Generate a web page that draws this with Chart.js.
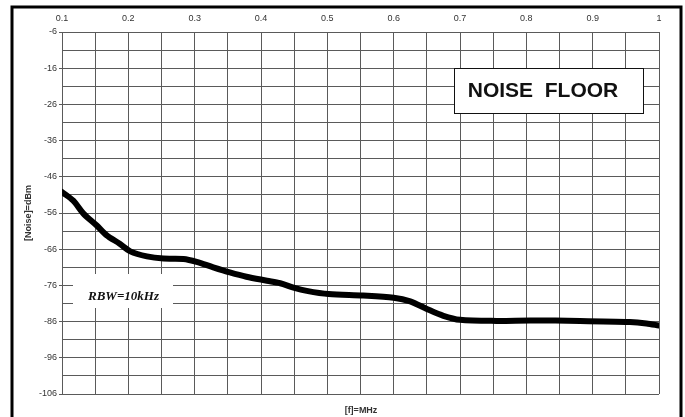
<!DOCTYPE html>
<html>
<head>
<meta charset="utf-8">
<script src="https://cdn.jsdelivr.net/npm/chart.js@4.4.1/dist/chart.umd.min.js"></script>
<style>
  html, body { margin: 0; padding: 0; background: #fff; }
  #wrap { position: relative; width: 685px; height: 417px; }
</style>
</head>
<body>
<div id="wrap"><canvas id="c" width="685" height="417"></canvas></div>
<script>
// Frequency in MHz
const freqMHz = [0.10, 0.117, 0.132, 0.152, 0.167, 0.187, 0.203, 0.228, 0.253, 0.283,
                 0.303, 0.328, 0.353, 0.378, 0.409, 0.429, 0.449, 0.469, 0.502, 0.554,
                 0.600, 0.625, 0.650, 0.675, 0.700, 0.755, 0.806, 0.881, 0.956, 0.981, 1.00];
// Noise level in dBm
const noiseDBm = [-50.2, -52.6, -56.1, -59.4, -62.1, -64.5, -66.6, -68.0, -68.6, -68.7,
                  -69.5, -71.0, -72.4, -73.6, -74.7, -75.4, -76.6, -77.5, -78.4, -78.8,
                  -79.4, -80.4, -82.5, -84.4, -85.5, -85.8, -85.7, -85.8, -86.1, -86.5, -87.1];
// Grid positions and labelled ticks
const xGrid = [0.1,0.15,0.2,0.25,0.3,0.35,0.4,0.45,0.5,0.55,0.6,0.65,0.7,0.75,0.8,0.85,0.9,0.95,1.0];
const xLabels = ['0.1','0.2','0.3','0.4','0.5','0.6','0.7','0.8','0.9','1'];
const yGrid = [-106,-101,-96,-91,-86,-81,-76,-71,-66,-61,-56,-51,-46,-41,-36,-31,-26,-21,-16,-11,-6];
const yLabels = ['-106','-96','-86','-76','-66','-56','-46','-36','-26','-16','-6'];
const chartTitle = 'NOISE  FLOOR';
const rbwNote = 'RBW=10kHz';
const xTitle = '[f]=MHz';
const yTitle = '[Noise]=dBm';

const points = freqMHz.map((f, i) => ({ x: f, y: noiseDBm[i] }));
const GRID = '#5a5a5a';
const LBL = '#333';

const decor = {
  id: 'decor',
  beforeDatasetsDraw(chart) {
    const ctx = chart.ctx;
    ctx.save();
    ctx.fillStyle = '#fff';
    ctx.fillRect(73, 274, 100, 34);
    ctx.fillStyle = '#111';
    ctx.font = 'italic bold 13px "Liberation Serif", "Times New Roman", serif';
    ctx.textAlign = 'left';
    ctx.textBaseline = 'middle';
    ctx.fillText(rbwNote, 88, 297);
    ctx.restore();
  },
  afterDraw(chart) {
    const ctx = chart.ctx;
    ctx.save();
    ctx.fillStyle = '#fff';
    ctx.fillRect(454, 68, 189, 45);
    ctx.strokeStyle = '#111';
    ctx.lineWidth = 1;
    ctx.strokeRect(454.5, 68.5, 189, 45);
    ctx.fillStyle = '#111';
    ctx.font = 'bold 21px "Liberation Sans", Arial, sans-serif';
    ctx.textAlign = 'center';
    ctx.textBaseline = 'middle';
    ctx.fillText(chartTitle, 543, 91);
    ctx.fillStyle = LBL;
    ctx.font = 'bold 9px "Liberation Sans", Arial, sans-serif';
    ctx.fillText(xTitle, 361, 411);
    ctx.translate(29, 213);
    ctx.rotate(-Math.PI / 2);
    ctx.fillText(yTitle, 0, 0);
    ctx.restore();
    ctx.save();
    ctx.strokeStyle = '#000';
    ctx.lineWidth = 3;
    ctx.strokeRect(12, 7, 669, 430);
    ctx.restore();
  }
};

new Chart(document.getElementById('c'), {
  type: 'line',
  data: {
    datasets: [{
      data: points,
      borderColor: '#000',
      borderWidth: 6,
      pointRadius: 0,
      tension: 0.3,
      borderCapStyle: 'round',
      borderJoinStyle: 'round',
      fill: false
    }]
  },
  options: {
    responsive: false,
    animation: false,
    layout: { padding: { left: 0, top: 0, right: 26, bottom: 23 } },
    plugins: { legend: { display: false }, tooltip: { enabled: false } },
    scales: {
      x: {
        type: 'linear',
        position: 'top',
        min: 0.1, max: 1.0,
        afterBuildTicks: s => { s.ticks = xGrid.map(v => ({ value: v })); },
        afterFit: s => { s.height = 32; },
        grid: { color: GRID, lineWidth: 1, drawTicks: false },
        border: { color: GRID, width: 1 },
        ticks: {
          padding: 8,
          color: LBL,
          font: { family: '"Liberation Sans", Arial, sans-serif', size: 9 },
          maxRotation: 0,
          autoSkip: false,
          callback: (v, i) => (i % 2 === 0 ? xLabels[i / 2] : '')
        }
      },
      y: {
        type: 'linear',
        min: -106, max: -6,
        afterBuildTicks: s => { s.ticks = yGrid.map(v => ({ value: v })); },
        afterFit: s => { s.width = 62; },
        grid: {
          color: GRID, lineWidth: 1, tickLength: 3,
          tickColor: c => (c.index % 2 === 0 ? GRID : 'rgba(0,0,0,0)')
        },
        border: { color: GRID, width: 1 },
        ticks: {
          padding: 2,
          color: LBL,
          font: { family: '"Liberation Sans", Arial, sans-serif', size: 9 },
          autoSkip: false,
          callback: (v, i) => (i % 2 === 0 ? yLabels[i / 2] : '')
        }
      }
    }
  },
  plugins: [decor]
});
</script>
</body>
</html>
